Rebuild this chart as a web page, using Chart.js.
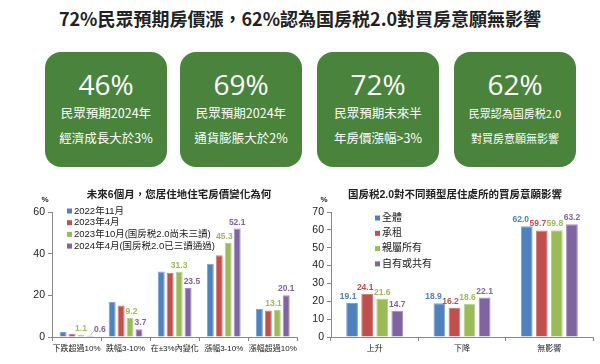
<!DOCTYPE html>
<html>
<head>
<meta charset="utf-8">
<script src="https://cdn.jsdelivr.net/npm/chart.js@4.4.1/dist/chart.umd.min.js"></script>
<style>
body { margin: 0; width: 600px; height: 364px; background: #fff; overflow: hidden; position: relative; font-family: "Noto Sans CJK TC", sans-serif; }
#title { position: absolute; left: 0; top: 5px; width: 600px; text-align: center; font-weight: bold; font-size: 18px; color: #222; line-height: 26px; }
.box { position: absolute; top: 52px; width: 122px; height: 115px; background: #4a843c; border-radius: 16px; color: #fff; text-align: center; }
.box .big { position: absolute; left: 0; width: 100%; top: 14px; font-family: "Open Sans", sans-serif; font-size: 28px; line-height: 36px; }
.box .l1, .box .l2 { position: absolute; left: 0; width: 100%; font-size: 12.5px; line-height: 18px; }
.box .l1 { top: 52px; }
.box .l2 { top: 77px; }
.box.small .l1, .box.small .l2 { font-size: 11px; }
.chartWrap { position: absolute; top: 180px; width: 300px; height: 184px; }
</style>
</head>
<body>
<div id="title">72%民眾預期房價漲，62%認為国房税2.0對買房意願無影響</div>

<div class="box" style="left:45px"><div class="big">46%</div><div class="l1">民眾預期2024年</div><div class="l2">經濟成長大於3%</div></div>
<div class="box" style="left:180px"><div class="big">69%</div><div class="l1">民眾預期2024年</div><div class="l2">通貨膨脹大於2%</div></div>
<div class="box" style="left:317px"><div class="big">72%</div><div class="l1">民眾預期未來半</div><div class="l2">年房價漲幅&gt;3%</div></div>
<div class="box small" style="left:454px"><div class="big">62%</div><div class="l1">民眾認為国房税2.0</div><div class="l2">對買房意願無影響</div></div>

<div class="chartWrap" style="left:0"><canvas id="leftChart" width="300" height="184"></canvas></div>
<div class="chartWrap" style="left:300px"><canvas id="rightChart" width="300" height="184"></canvas></div>

<script>
// Données du graphique de gauche
const leftCategories = ['下跌超過10%', '跌幅3-10%', '在±3%內變化', '漲幅3-10%', '漲幅超過10%'];
const leftSeriesNames = ['2022年11月', '2023年4月', '2023年10月(国房税2.0尚未三讀)', '2024年4月(国房税2.0已三讀通過)'];
const nov2022 = [2.4, 16.9, 31.4, 35.2, 13.5];
const apr2023 = [1.6, 15.1, 30.7, 39.2, 12.7];
const oct2023 = [1.1, 9.2, 31.3, 45.3, 13.1];
const apr2024 = [0.6, 3.7, 23.5, 52.1, 20.1];
const leftTicks = [0, 20, 40, 60];

// Données du graphique de droite
const rightCategories = ['上升', '下降', '無影響'];
const rightSeriesNames = ['全體', '承租', '親屬所有', '自有或共有'];
const allRespondents = [19.1, 18.9, 62.0];
const renters = [24.1, 16.2, 59.7];
const familyOwned = [21.6, 18.6, 59.8];
const selfOwned = [14.7, 22.1, 63.2];
const rightTicks = [0, 10, 20, 30, 40, 50, 60, 70];

const COLORS = ['#4f81bd', '#c0504d', '#9bbb59', '#8064a2'];
const BORDERS = ['#7aa3d6', '#d77c79', '#b7d287', '#a48bc2'];
const FONT = '"Liberation Sans", "Noto Sans CJK TC", sans-serif';

// Position horizontale d'une étiquette (mode "avoid" : éviter une barre voisine plus haute)
function avoidBars(chart, i, j, bar, w, bottom) {
    const n = chart.data.datasets.length;
    let x = bar.x - w / 2;
    const prev = i > 0 ? chart.getDatasetMeta(i - 1).data[j] : null;
    const next = i < n - 1 ? chart.getDatasetMeta(i + 1).data[j] : null;
    if (prev && prev.y < bottom && prev.x + prev.width / 2 > x) {
        x = prev.x + prev.width / 2 + 1;
    }
    if (next && next.y < bottom && next.x - next.width / 2 < x + w) {
        x = next.x - next.width / 2 - 1 - w;
    }
    return x;
}

// Plugin : titre, légende et étiquettes de valeurs
const overlayPlugin = {
    id: 'overlay',
    afterDatasetsDraw(chart, args, opts) {
        const ctx = chart.ctx;
        const n = chart.data.datasets.length;
        ctx.save();

        ctx.font = opts.valueFont;
        ctx.textBaseline = 'bottom';
        ctx.textAlign = 'left';
        chart.data.labels.forEach((cat, j) => {
            const placed = [];
            // de droite à gauche : chaque étiquette se range à gauche de la précédente si elles se chevauchent
            for (let i = n - 1; i >= 0; i--) {
                const ds = chart.data.datasets[i];
                if (!ds.showValues) continue;
                const bar = chart.getDatasetMeta(i).data[j];
                const txt = ds.data[j].toFixed(1);
                const w = ctx.measureText(txt).width;
                const bottom = bar.y - 2;
                ctx.fillStyle = ds.backgroundColor;
                if (ds.data[j] < 1 && opts.leader) {
                    ctx.strokeStyle = '#bbb';
                    ctx.lineWidth = 0.8;
                    ctx.beginPath();
                    ctx.moveTo(bar.x, bar.y);
                    ctx.lineTo(bar.x + 5, bar.y - 6);
                    ctx.stroke();
                    ctx.fillText(txt, bar.x + 4, bottom);
                    continue;
                }
                let x;
                if (opts.avoid) {
                    x = avoidBars(chart, i, j, bar, w, bottom);
                } else {
                    x = bar.x - w / 2;
                    placed.forEach(p => {
                        const vOverlap = Math.abs(p.bottom - bottom) < 9;
                        if (vOverlap && x + w > p.x) x = p.x - 0.5 - w;
                    });
                }
                placed.push({ x: x, bottom: bottom });
                ctx.fillText(txt, x, bottom);
            }
        });

        // titre
        ctx.textAlign = 'center';
        ctx.fillStyle = '#222';
        ctx.font = opts.titleFont;
        ctx.textBaseline = 'middle';
        ctx.fillText(opts.title, opts.titleX, 15);

        // unité
        ctx.font = 'bold 8px ' + FONT;
        ctx.fillText('%', opts.unitX, 20);

        // légende
        ctx.textAlign = 'left';
        ctx.font = opts.legendFont;
        chart.data.datasets.forEach((ds, i) => {
            const y = opts.legendY + i * opts.legendStep;
            ctx.fillStyle = ds.backgroundColor;
            ctx.fillRect(opts.legendX, y - 2.5, 5, 5);
            ctx.fillStyle = '#222';
            ctx.fillText(ds.label, opts.legendX + 7, y);
        });
        ctx.restore();
    }
};

function makeDatasets(names, series, labelled) {
    return names.map((name, i) => ({
        label: name,
        data: series[i],
        backgroundColor: COLORS[i],
        borderColor: BORDERS[i],
        borderWidth: 1,
        showValues: labelled[i]
    }));
}

function makeOptions(tickValues, max, yWidth, rightPad, catPct, overlay) {
    return {
        responsive: false,
        animation: false,
        layout: { padding: { top: 32, right: rightPad, left: 0, bottom: 0 } },
        plugins: { legend: { display: false }, tooltip: { enabled: false }, overlay: overlay },
        datasets: { bar: { categoryPercentage: catPct, barPercentage: 0.78 } },
        scales: {
            x: {
                grid: { drawOnChartArea: false, tickLength: 4, color: '#888', offset: true },
                border: { color: '#888' },
                ticks: { color: '#222', font: { family: FONT, size: 8 }, padding: 3, maxRotation: 0, autoSkip: false },
                afterFit: s => { s.height = 27; }
            },
            y: {
                min: 0,
                max: max,
                afterBuildTicks: s => { s.ticks = tickValues.map(v => ({ value: v })); },
                grid: { drawOnChartArea: false, tickLength: 4, color: '#888' },
                border: { color: '#888' },
                ticks: { color: '#222', font: { family: FONT, size: 10.5 }, padding: 3 },
                afterFit: s => { s.width = yWidth; }
            }
        }
    };
}

new Chart(document.getElementById('leftChart'), {
    type: 'bar',
    data: {
        labels: leftCategories,
        datasets: makeDatasets(leftSeriesNames, [nov2022, apr2023, oct2023, apr2024], [false, false, true, true])
    },
    options: makeOptions(leftTicks, 60, 52, 2, 0.73, {
        title: '未來6個月，您居住地住宅房價變化為何',
        titleX: 179,
        titleFont: 'bold 10.5px ' + FONT,
        unitX: 45,
        valueFont: 'bold 8.5px ' + FONT,
        avoid: true,
        leader: true,
        legendFont: '9.5px ' + FONT,
        legendX: 67,
        legendY: 31,
        legendStep: 11.7
    }),
    plugins: [overlayPlugin]
});

new Chart(document.getElementById('rightChart'), {
    type: 'bar',
    data: {
        labels: rightCategories,
        datasets: makeDatasets(rightSeriesNames, [allRespondents, renters, familyOwned, selfOwned], [true, true, true, true])
    },
    options: makeOptions(rightTicks, 70, 31, 7, 0.69, {
        title: '国房税2.0對不同類型居住處所的買房意願影響',
        titleX: 155,
        titleFont: 'bold 10.5px ' + FONT,
        unitX: 24,
        valueFont: 'bold 8.5px ' + FONT,
        avoid: false,
        leader: false,
        legendFont: '10px ' + FONT,
        legendX: 75,
        legendY: 38,
        legendStep: 15.3
    }),
    plugins: [overlayPlugin]
});
</script>
</body>
</html>
